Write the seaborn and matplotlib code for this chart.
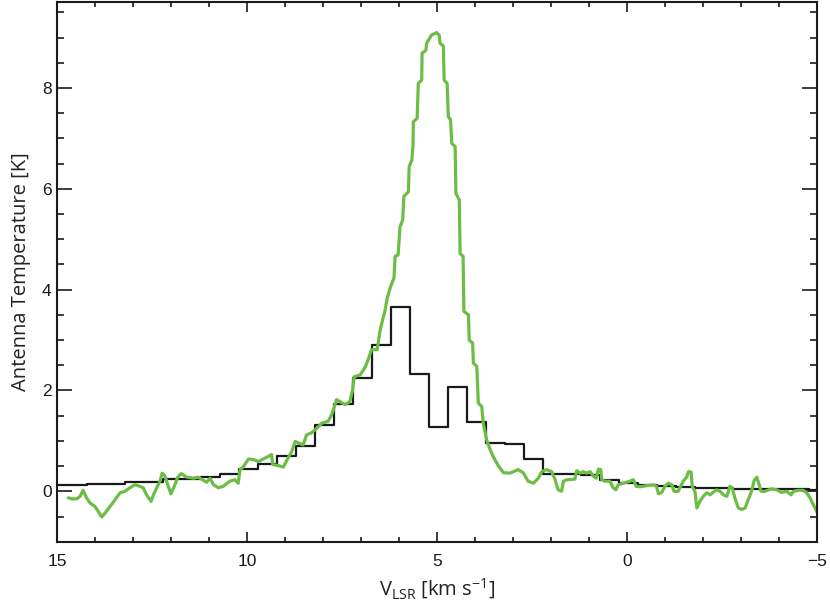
import matplotlib
matplotlib.use("Agg")
import matplotlib.pyplot as plt
from matplotlib.ticker import MultipleLocator
import seaborn as sns
import pandas as pd

# Black: coarse-resolution spectrum (channel centres, km/s) and antenna temperature (K)
black_v = [14.97, 14.47, 13.97, 13.47, 12.97, 12.47, 11.97, 11.47, 10.97, 10.47,
           9.97, 9.47, 8.97, 8.47, 7.97, 7.47, 6.97, 6.47, 5.97, 5.47,
           4.97, 4.47, 3.97, 3.47, 2.97, 2.47, 1.97, 1.47, 0.97, 0.47,
           -0.03, -0.53, -1.03, -1.53, -2.03, -2.53, -3.03, -3.53, -4.03, -4.53, -5.03]
black_t = [0.12, 0.12, 0.15, 0.15, 0.18, 0.18, 0.24, 0.24, 0.28, 0.35,
           0.44, 0.54, 0.71, 0.90, 1.32, 1.74, 2.25, 2.91, 3.66, 2.33,
           1.28, 2.07, 1.37, 0.96, 0.94, 0.65, 0.34, 0.34, 0.33, 0.22,
           0.17, 0.13, 0.10, 0.08, 0.06, 0.06, 0.05, 0.05, 0.04, 0.04, 0.03]

# Green: high-resolution spectrum
green_v = [14.71, 14.62, 14.49, 14.40, 14.32, 14.23, 14.14, 14.01, 13.92, 13.83,
           13.74, 13.61, 13.48, 13.35, 13.22, 13.09, 12.96, 12.83, 12.74, 12.65,
           12.53, 12.47, 12.38, 12.30, 12.24, 12.17, 12.08, 12.01, 11.92, 11.83,
           11.74, 11.59, 11.42, 11.29, 11.16, 11.07, 10.98, 10.89, 10.76, 10.63,
           10.46, 10.33, 10.24, 10.19, 10.11, 9.97, 9.84, 9.71, 9.58, 9.45,
           9.36, 9.33, 9.18, 9.05, 8.95, 8.83, 8.74, 8.66, 8.53, 8.44,
           8.31, 8.17, 8.04, 7.87, 7.78, 7.72, 7.65, 7.56, 7.43, 7.30,
           7.23, 7.19, 7.03, 6.90, 6.82, 6.73, 6.58, 6.51, 6.44, 6.38,
           6.32, 6.23, 6.14, 6.11, 6.03, 5.98, 5.91, 5.88, 5.76, 5.74,
           5.67, 5.64, 5.63, 5.53, 5.50, 5.41, 5.40, 5.30, 5.28, 5.15,
           5.02, 4.95, 4.93, 4.84, 4.82, 4.74, 4.71, 4.65, 4.62, 4.53,
           4.51, 4.42, 4.40, 4.32, 4.30, 4.18, 4.16, 4.07, 4.05, 3.96,
           3.92, 3.83, 3.79, 3.70, 3.61, 3.53, 3.39, 3.26, 3.09, 2.87,
           2.74, 2.61, 2.47, 2.34, 2.25, 2.12, 1.99, 1.90, 1.82, 1.73,
           1.68, 1.59, 1.38, 1.33, 1.24, 1.16, 1.07, 0.98, 0.89, 0.82,
           0.76, 0.70, 0.67, 0.59, 0.46, 0.37, 0.30, 0.24, 0.11, -0.07,
           -0.16, -0.23, -0.33, -0.51, -0.68, -0.77, -0.82, -0.91, -0.99, -1.08,
           -1.17, -1.23, -1.34, -1.47, -1.56, -1.61, -1.68, -1.71, -1.78, -1.83,
           -1.91, -2.00, -2.09, -2.18, -2.26, -2.35, -2.44, -2.53, -2.62, -2.70,
           -2.76, -2.83, -2.92, -3.01, -3.10, -3.18, -3.27, -3.34, -3.41, -3.47,
           -3.52, -3.62, -3.80, -3.93, -4.06, -4.19, -4.31, -4.37, -4.50, -4.63,
           -4.72, -4.81, -4.87, -4.94, -4.98]
green_t = [-0.13, -0.15, -0.15, -0.10, 0.02, -0.13, -0.23, -0.30, -0.40, -0.51,
           -0.43, -0.30, -0.17, -0.03, 0.00, 0.07, 0.13, 0.10, 0.07, -0.07,
           -0.20, -0.07, 0.07, 0.20, 0.36, 0.31, 0.10, -0.05, 0.10, 0.28,
           0.35, 0.28, 0.26, 0.28, 0.22, 0.18, 0.26, 0.13, 0.07, 0.10,
           0.20, 0.23, 0.16, 0.43, 0.48, 0.64, 0.63, 0.59, 0.64, 0.69,
           0.73, 0.53, 0.51, 0.48, 0.63, 0.79, 0.99, 0.96, 0.92, 1.12,
           1.16, 1.25, 1.35, 1.39, 1.52, 1.65, 1.82, 1.78, 1.72, 1.78,
           2.01, 2.27, 2.31, 2.46, 2.61, 2.81, 2.81, 3.17, 3.40, 3.57,
           3.82, 4.06, 4.23, 4.66, 4.69, 5.25, 5.38, 5.85, 5.94, 6.44,
           6.57, 6.84, 7.33, 7.40, 8.09, 8.16, 8.69, 8.75, 8.89, 9.05,
           9.10, 9.05, 8.89, 8.83, 8.16, 8.09, 7.43, 7.37, 6.90, 6.84,
           5.91, 5.78, 4.72, 4.66, 3.57, 3.50, 3.00, 2.94, 2.54, 2.48,
           1.75, 1.68, 1.35, 1.02, 0.83, 0.69, 0.50, 0.37, 0.36, 0.43,
           0.37, 0.20, 0.16, 0.26, 0.39, 0.43, 0.39, 0.23, 0.03, 0.00,
           0.20, 0.23, 0.24, 0.41, 0.36, 0.39, 0.36, 0.39, 0.30, 0.26,
           0.44, 0.43, 0.23, 0.20, 0.20, 0.07, 0.03, 0.13, 0.16, 0.20,
           0.23, 0.10, 0.09, 0.11, 0.13, 0.10, -0.05, -0.02, 0.10, 0.16,
           0.13, 0.00, 0.00, 0.20, 0.28, 0.39, 0.38, 0.09, 0.00, -0.33,
           -0.20, -0.10, -0.03, -0.07, -0.02, 0.03, 0.00, -0.07, -0.10, 0.10,
           0.07, -0.13, -0.33, -0.36, -0.33, -0.17, 0.00, 0.22, 0.28, 0.13,
           0.00, 0.00, 0.05, 0.03, -0.02, 0.00, -0.07, 0.00, 0.02, 0.02,
           -0.03, -0.13, -0.23, -0.33, -0.40]

x_ticks = [15, 10, 5, 0, -5]
x_ticklabels = ["15", "10", "5", "0", "\u22125"]
y_ticks = [0, 2, 4, 6, 8]

sns.set_theme(style="ticks")
plt.rcParams["font.family"] = ["Liberation Sans", "DejaVu Sans"]
plt.rcParams["mathtext.fontset"] = "custom"
plt.rcParams["mathtext.rm"] = "Open Sans"
plt.rcParams["mathtext.it"] = "Open Sans"

df_black = pd.DataFrame({"v": black_v, "t": black_t})
df_green = pd.DataFrame({"v": green_v, "t": green_t})

fig = plt.figure(figsize=(8.30, 6.11), dpi=100)
ax = fig.add_axes([0.069, 0.1134, 0.9157, 0.8828])

sns.lineplot(data=df_black, x="v", y="t", ax=ax, color="#1a1a1a", linewidth=1.6,
             sort=False, estimator=None, drawstyle="steps-mid")
sns.lineplot(data=df_green, x="v", y="t", ax=ax, color="#6cbd45", linewidth=2.3,
             sort=False, estimator=None)

ax.set_xlim(15, -5)
ax.set_ylim(-1, 9.7)
ax.set_xticks(x_ticks)
ax.set_xticklabels(x_ticklabels)
ax.set_yticks(y_ticks)
ax.xaxis.set_minor_locator(MultipleLocator(1))
ax.yaxis.set_minor_locator(MultipleLocator(0.5))

for s in ax.spines.values():
    s.set_linewidth(1.5)
    s.set_color("#1a1a1a")
    s.set_visible(True)

ax.tick_params(which="both", direction="in", top=True, right=True,
               color="#1a1a1a", width=1.2, labelsize=12.5, labelcolor="#1a1a1a")
ax.tick_params(axis="x", which="major", length=7.5, pad=9)
ax.tick_params(axis="x", which="minor", length=3.8)
ax.tick_params(axis="y", which="major", length=11, pad=4)
ax.tick_params(axis="y", which="minor", length=5.3)

ax.set_xlabel(r"V$_{\rm LSR}$ [km s$^{-1}$]", fontfamily="Open Sans",
              fontsize=14.5, color="#222222", labelpad=5)
ax.set_ylabel("Antenna Temperature [K]", fontfamily="Open Sans",
              fontsize=14.5, color="#222222", labelpad=8)

fig.savefig("out.png", dpi=100)
